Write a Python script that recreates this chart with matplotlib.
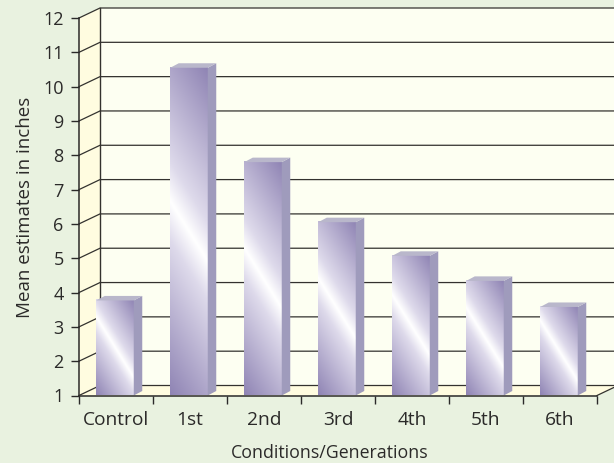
import numpy as np
import matplotlib.pyplot as plt
from matplotlib.colors import LinearSegmentedColormap
from matplotlib.patches import Polygon

plt.rcParams['font.family'] = ['Open Sans', 'DejaVu Sans']

categories = ['Control', '1st', '2nd', '3rd', '4th', '5th', '6th']
means = [3.77, 10.55, 7.8, 6.05, 5.07, 4.34, 3.58]
y_ticks = list(range(1, 13))

W, H = 614, 463
ax_left, ax_right, ax_top, ax_bottom = 79, 597, 18, 395.5

bg = '#e9f2e0'
ink = '#2b2a29'
cmap = LinearSegmentedColormap.from_list('bar', [(0, '#ffffff'), (0.2, '#dedaeb'), (1, '#8f84b4')])

fig = plt.figure(figsize=(W / 100, H / 100), dpi=100, facecolor=bg)
ax = fig.add_axes([ax_left / W, 1 - ax_bottom / H, (ax_right - ax_left) / W, (ax_bottom - ax_top) / H])
ax.patch.set_visible(False)

n = len(categories)
px_x = (ax_right - ax_left) / n      # pixels per category
px_y = (ax_bottom - ax_top) / 11     # pixels per inch
wall_dx, wall_dy = 21 / px_x, 10 / px_y
bar_dx, bar_dy = 8.5 / px_x, 4.5 / px_y
right_edge = n + 17 / px_x

# back wall, side wall, floor
ax.add_patch(Polygon([(wall_dx, 1 + wall_dy), (right_edge + 1, 1 + wall_dy), (right_edge + 1, 12 + wall_dy), (wall_dx, 12 + wall_dy)],
                     fc='#fdfff2', ec='none', clip_on=False, zorder=1))
ax.add_patch(Polygon([(0, 1), (wall_dx, 1 + wall_dy), (wall_dx, 12 + wall_dy), (0, 12)],
                     fc='#fffce0', ec='none', clip_on=False, zorder=1))
ax.add_patch(Polygon([(0, 1), (n, 1), (right_edge, 1 + wall_dy * 17 / 21), (right_edge + 1, 1 + wall_dy), (wall_dx, 1 + wall_dy)],
                     fc='#fffce0', ec='none', clip_on=False, zorder=1))

# grid
for v in y_ticks:
    ax.plot([0, wall_dx, right_edge + 1], [v, v + wall_dy, v + wall_dy], color='#33322f', lw=0.9,
            clip_on=False, zorder=2)
ax.plot([wall_dx, wall_dx], [1 + wall_dy, 12 + wall_dy], color='#33322f', lw=1.0, clip_on=False, zorder=2)
ax.plot([n, n + 17 / px_x], [1, 1 + wall_dy * 17 / 21], color='#33322f', lw=0.9, clip_on=False, zorder=2)

# bars
bar_w = 37.5 / px_x
nx, ny = 0.85, 0.53
for i, val in enumerate(means):
    x0 = i + 0.5 - bar_w / 2 - 1 / px_x
    x1 = x0 + bar_w
    xs = np.linspace(-bar_w / 2 * px_x, bar_w / 2 * px_x, 60)
    ys = np.linspace((val - 1) / 2 * px_y, -(val - 1) / 2 * px_y, 300)
    xx, yy = np.meshgrid(xs, ys)
    s = xx * nx + yy * ny
    s = np.abs(s) / s.max()
    ax.imshow(s, cmap=cmap, vmin=0, vmax=1, extent=[x0, x1, 1, val], aspect='auto',
              interpolation='bilinear', zorder=3)
    ax.add_patch(Polygon([(x1, 1), (x1 + bar_dx, 1 + bar_dy), (x1 + bar_dx, val + bar_dy), (x1, val)],
                         fc='#9f9bbc', ec='none', clip_on=False, zorder=3))
    ax.add_patch(Polygon([(x0, val), (x1, val), (x1 + bar_dx, val + bar_dy), (x0 + bar_dx, val + bar_dy)],
                         fc='#b9b7cb', ec='none', clip_on=False, zorder=3))

ax.set_xlim(0, n)
ax.set_ylim(1, 12)

for side in ['top', 'right']:
    ax.spines[side].set_visible(False)
for side in ['left', 'bottom']:
    ax.spines[side].set_color(ink)
    ax.spines[side].set_linewidth(1.1)
    ax.spines[side].set_zorder(5)

ax.set_yticks(y_ticks)
ax.set_xticks(range(n + 1))
ax.set_xticklabels([])
ax.set_xticks(np.arange(n) + 0.5, categories, minor=True)
ax.tick_params(axis='both', which='major', length=5.5, width=1.0, color=ink, labelcolor=ink, labelsize=13)
ax.tick_params(axis='y', pad=5.5)
ax.tick_params(axis='x', which='minor', length=0, pad=11, labelsize=13.8, labelcolor=ink)

fig.text(330 / W, 1 - 452.5 / H, 'Conditions/Generations', ha='center', va='center', fontsize=12.8, color=ink)
fig.text(25 / W, 1 - 207 / H, 'Mean estimates in inches', ha='center', va='center', rotation=90, fontsize=13.5, color=ink)

fig.savefig('out.png', dpi=100, facecolor=bg)
